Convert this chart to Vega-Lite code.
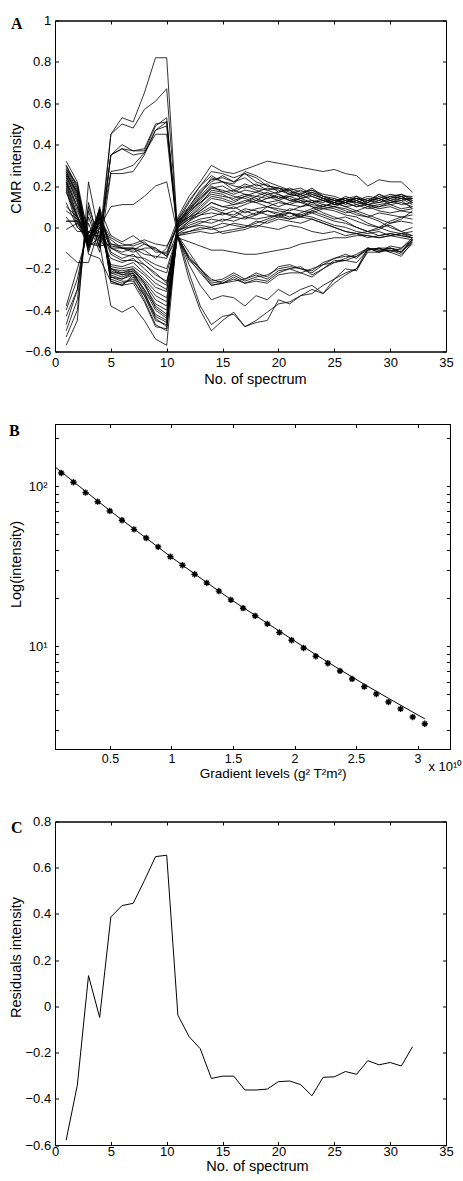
{
"$schema": "https://vega.github.io/schema/vega-lite/v6.json",
"padding": {"left": 7, "top": 13.5, "right": 0, "bottom": 0},
"background": "white",
"bounds": "flush",
"spacing": 72.5,
"config": {
  "font": "Liberation Sans",
  "view": {"stroke": "black", "strokeWidth": 1},
  "axis": {"grid": false, "domainColor": "black", "domainWidth": 1, "tickColor": "black", "tickWidth": 1, "tickSize": -3.5, "labelColor": "black", "titleColor": "black", "labelFont": "Liberation Sans", "titleFont": "Liberation Sans", "labelFontSize": 13, "titleFontSize": 14.5, "titleFontWeight": "normal", "labelFlush": false, "labelOverlap": false},
  "title": {"font": "Liberation Serif", "fontWeight": "bold", "fontSize": 16, "color": "black"}
},
"vconcat": [
{
  "width": 391, "height": 331,
  "title": {"text": "A", "orient": "top", "anchor": "start", "frame": "group", "align": "left", "dx": -44, "offset": -17.6},
  "data": {"values": [
{"x":1,"L1":-0.47,"L2":-0.57,"L3":-0.53,"L4":-0.4,"L5":-0.38,"L6":-0.43,"L7":-0.12,"L8":-0.5,"L9":0.03,"N1":0.32,"N2":0.3,"N3":0.29,"N4":0.28,"N5":0.27,"N6":0.26,"N7":0.25,"N8":0.24,"N9":0.23,"N10":0.22,"N11":0.21,"N12":0.2,"N13":0.19,"N14":0.18,"N15":0.26,"N16":0.3,"N17":0.28,"N18":0.25,"N19":0.22,"N20":0.08,"N21":0.27,"Z1":0.03,"Z2":-0.01,"Z3":0.1,"Z4":0.17,"Z5":0.12,"Z6":0.05},
{"x":2,"L1":-0.3,"L2":-0.45,"L3":-0.4,"L4":-0.25,"L5":-0.2,"L6":-0.3,"L7":-0.17,"L8":-0.35,"L9":0.03,"N1":0.22,"N2":0.2,"N3":0.18,"N4":0.17,"N5":0.15,"N6":0.14,"N7":0.12,"N8":0.1,"N9":0.08,"N10":0.06,"N11":0.05,"N12":0.04,"N13":0.02,"N14":0.0,"N15":0.17,"N16":0.19,"N17":0.21,"N18":0.13,"N19":0.1,"N20":0.04,"N21":0.16,"Z1":0.03,"Z2":0.02,"Z3":0.05,"Z4":0.05,"Z5":0.0,"Z6":-0.02},
{"x":3,"L1":0.05,"L2":0.22,"L3":0.12,"L4":0.02,"L5":-0.02,"L6":0.08,"L7":-0.17,"L8":0.1,"L9":-0.05,"N1":-0.05,"N2":-0.08,"N3":-0.07,"N4":-0.1,"N5":-0.06,"N6":-0.12,"N7":-0.09,"N8":-0.11,"N9":-0.05,"N10":-0.08,"N11":-0.06,"N12":-0.04,"N13":-0.09,"N14":-0.05,"N15":-0.13,"N16":-0.03,"N17":-0.1,"N18":-0.07,"N19":-0.04,"N20":-0.1,"N21":-0.08,"Z1":-0.06,"Z2":-0.05,"Z3":-0.03,"Z4":-0.08,"Z5":-0.05,"Z6":-0.02},
{"x":4,"L1":-0.1,"L2":-0.05,"L3":-0.08,"L4":-0.12,"L5":-0.05,"L6":-0.1,"L7":0.0,"L8":-0.07,"L9":0.05,"N1":0.05,"N2":0.08,"N3":0.06,"N4":0.1,"N5":0.07,"N6":0.04,"N7":0.09,"N8":0.05,"N9":0.02,"N10":0.0,"N11":0.03,"N12":-0.02,"N13":-0.05,"N14":0.01,"N15":-0.15,"N16":0.07,"N17":0.03,"N18":0.06,"N19":-0.04,"N20":0.08,"N21":-0.08,"Z1":0.09,"Z2":0.04,"Z3":0.05,"Z4":-0.09,"Z5":0.02,"Z6":0.0},
{"x":5,"L1":0.45,"L2":0.45,"L3":0.35,"L4":0.26,"L5":0.27,"L6":0.35,"L7":0.1,"L8":0.35,"L9":-0.1,"N1":-0.25,"N2":-0.26,"N3":-0.24,"N4":-0.27,"N5":-0.23,"N6":-0.22,"N7":-0.21,"N8":-0.22,"N9":-0.2,"N10":-0.2,"N11":-0.19,"N12":-0.18,"N13":-0.15,"N14":-0.13,"N15":-0.26,"N16":-0.24,"N17":-0.2,"N18":-0.12,"N19":-0.1,"N20":-0.1,"N21":-0.38,"Z1":-0.04,"Z2":-0.05,"Z3":-0.08,"Z4":-0.08,"Z5":-0.06,"Z6":-0.09},
{"x":6,"L1":0.53,"L2":0.5,"L3":0.4,"L4":0.26,"L5":0.28,"L6":0.38,"L7":0.11,"L8":0.38,"L9":-0.1,"N1":-0.27,"N2":-0.28,"N3":-0.26,"N4":-0.28,"N5":-0.25,"N6":-0.24,"N7":-0.23,"N8":-0.22,"N9":-0.22,"N10":-0.21,"N11":-0.2,"N12":-0.19,"N13":-0.17,"N14":-0.16,"N15":-0.28,"N16":-0.25,"N17":-0.23,"N18":-0.15,"N19":-0.12,"N20":-0.13,"N21":-0.41,"Z1":-0.07,"Z2":-0.08,"Z3":-0.1,"Z4":-0.09,"Z5":-0.1,"Z6":-0.1},
{"x":7,"L1":0.51,"L2":0.48,"L3":0.37,"L4":0.27,"L5":0.3,"L6":0.37,"L7":0.11,"L8":0.35,"L9":-0.12,"N1":-0.25,"N2":-0.27,"N3":-0.26,"N4":-0.24,"N5":-0.23,"N6":-0.22,"N7":-0.22,"N8":-0.2,"N9":-0.21,"N10":-0.2,"N11":-0.19,"N12":-0.17,"N13":-0.15,"N14":-0.16,"N15":-0.23,"N16":-0.22,"N17":-0.21,"N18":-0.13,"N19":-0.1,"N20":-0.14,"N21":-0.38,"Z1":-0.04,"Z2":-0.09,"Z3":-0.11,"Z4":-0.08,"Z5":-0.1,"Z6":-0.1},
{"x":8,"L1":0.65,"L2":0.57,"L3":0.37,"L4":0.35,"L5":0.36,"L6":0.38,"L7":0.15,"L8":0.36,"L9":-0.1,"N1":-0.35,"N2":-0.36,"N3":-0.33,"N4":-0.32,"N5":-0.3,"N6":-0.3,"N7":-0.28,"N8":-0.27,"N9":-0.26,"N10":-0.25,"N11":-0.23,"N12":-0.22,"N13":-0.2,"N14":-0.18,"N15":-0.33,"N16":-0.31,"N17":-0.27,"N18":-0.18,"N19":-0.16,"N20":-0.15,"N21":-0.45,"Z1":-0.08,"Z2":-0.07,"Z3":-0.08,"Z4":-0.06,"Z5":-0.13,"Z6":-0.11},
{"x":9,"L1":0.82,"L2":0.61,"L3":0.49,"L4":0.47,"L5":0.45,"L6":0.5,"L7":0.2,"L8":0.47,"L9":-0.1,"N1":-0.47,"N2":-0.48,"N3":-0.45,"N4":-0.42,"N5":-0.4,"N6":-0.38,"N7":-0.37,"N8":-0.35,"N9":-0.33,"N10":-0.31,"N11":-0.29,"N12":-0.27,"N13":-0.25,"N14":-0.22,"N15":-0.43,"N16":-0.44,"N17":-0.39,"N18":-0.23,"N19":-0.2,"N20":-0.18,"N21":-0.54,"Z1":-0.1,"Z2":-0.12,"Z3":-0.11,"Z4":-0.08,"Z5":-0.14,"Z6":-0.15},
{"x":10,"L1":0.82,"L2":0.67,"L3":0.53,"L4":0.51,"L5":0.45,"L6":0.51,"L7":0.22,"L8":0.49,"L9":-0.14,"N1":-0.5,"N2":-0.49,"N3":-0.47,"N4":-0.45,"N5":-0.44,"N6":-0.42,"N7":-0.4,"N8":-0.38,"N9":-0.36,"N10":-0.34,"N11":-0.31,"N12":-0.3,"N13":-0.28,"N14":-0.27,"N15":-0.46,"N16":-0.48,"N17":-0.43,"N18":-0.26,"N19":-0.22,"N20":-0.2,"N21":-0.57,"Z1":-0.14,"Z2":-0.12,"Z3":-0.13,"Z4":-0.09,"Z5":-0.15,"Z6":-0.1},
{"x":11,"L1":-0.05,"L2":-0.04,"L3":-0.05,"L4":-0.04,"L5":-0.05,"L6":-0.05,"L7":-0.04,"L8":-0.05,"L9":-0.05,"N1":0.05,"N2":0.04,"N3":0.03,"N4":0.02,"N5":0.02,"N6":0.0,"N7":0.01,"N8":0.03,"N9":0.02,"N10":0.0,"N11":0.01,"N12":-0.01,"N13":0.0,"N14":-0.02,"N15":-0.01,"N16":-0.02,"N17":-0.03,"N18":-0.04,"N19":-0.04,"N20":-0.03,"N21":0.02,"Z1":0.02,"Z2":0.01,"Z3":0.03,"Z4":0.0,"Z5":-0.02,"Z6":0.04},
{"x":12,"L1":-0.25,"L2":-0.22,"L3":-0.18,"L4":-0.15,"L5":-0.15,"L6":-0.16,"L7":-0.12,"L8":-0.14,"L9":-0.07,"N1":0.15,"N2":0.13,"N3":0.12,"N4":0.1,"N5":0.08,"N6":0.07,"N7":0.06,"N8":0.08,"N9":0.05,"N10":0.04,"N11":0.05,"N12":0.03,"N13":0.04,"N14":0.02,"N15":0.0,"N16":0.01,"N17":0.0,"N18":-0.02,"N19":-0.03,"N20":-0.02,"N21":0.07,"Z1":0.09,"Z2":0.08,"Z3":0.09,"Z4":0.05,"Z5":0.03,"Z6":0.1},
{"x":13,"L1":-0.4,"L2":-0.38,"L3":-0.28,"L4":-0.22,"L5":-0.2,"L6":-0.21,"L7":-0.2,"L8":-0.2,"L9":-0.09,"N1":0.22,"N2":0.2,"N3":0.2,"N4":0.17,"N5":0.15,"N6":0.13,"N7":0.11,"N8":0.12,"N9":0.09,"N10":0.08,"N11":0.07,"N12":0.06,"N13":0.06,"N14":0.04,"N15":0.02,"N16":0.03,"N17":0.01,"N18":0.0,"N19":-0.02,"N20":-0.01,"N21":0.12,"Z1":0.16,"Z2":0.14,"Z3":0.14,"Z4":0.1,"Z5":0.08,"Z6":0.18},
{"x":14,"L1":-0.5,"L2":-0.47,"L3":-0.35,"L4":-0.28,"L5":-0.27,"L6":-0.28,"L7":-0.25,"L8":-0.26,"L9":-0.11,"N1":0.3,"N2":0.27,"N3":0.25,"N4":0.22,"N5":0.21,"N6":0.19,"N7":0.18,"N8":0.16,"N9":0.14,"N10":0.12,"N11":0.1,"N12":0.09,"N13":0.07,"N14":0.05,"N15":0.04,"N16":0.02,"N17":0.0,"N18":-0.01,"N19":-0.03,"N20":0.0,"N21":0.17,"Z1":0.24,"Z2":0.2,"Z3":0.19,"Z4":0.15,"Z5":0.12,"Z6":0.23},
{"x":15,"L1":-0.45,"L2":-0.43,"L3":-0.33,"L4":-0.27,"L5":-0.26,"L6":-0.27,"L7":-0.27,"L8":-0.25,"L9":-0.11,"N1":0.27,"N2":0.26,"N3":0.22,"N4":0.25,"N5":0.22,"N6":0.2,"N7":0.17,"N8":0.15,"N9":0.13,"N10":0.1,"N11":0.08,"N12":0.07,"N13":0.06,"N14":0.07,"N15":0.03,"N16":0.04,"N17":0.02,"N18":0.0,"N19":-0.02,"N20":-0.03,"N21":0.16,"Z1":0.22,"Z2":0.17,"Z3":0.18,"Z4":0.14,"Z5":0.1,"Z6":0.24},
{"x":16,"L1":-0.41,"L2":-0.42,"L3":-0.34,"L4":-0.25,"L5":-0.23,"L6":-0.26,"L7":-0.24,"L8":-0.22,"L9":-0.12,"N1":0.26,"N2":0.24,"N3":0.21,"N4":0.22,"N5":0.2,"N6":0.17,"N7":0.18,"N8":0.14,"N9":0.11,"N10":0.09,"N11":0.1,"N12":0.05,"N13":0.08,"N14":0.06,"N15":0.05,"N16":0.03,"N17":0.01,"N18":0.02,"N19":-0.01,"N20":-0.02,"N21":0.13,"Z1":0.18,"Z2":0.15,"Z3":0.16,"Z4":0.12,"Z5":0.11,"Z6":0.22},
{"x":17,"L1":-0.48,"L2":-0.48,"L3":-0.38,"L4":-0.27,"L5":-0.26,"L6":-0.25,"L7":-0.27,"L8":-0.25,"L9":-0.13,"N1":0.28,"N2":0.26,"N3":0.27,"N4":0.24,"N5":0.19,"N6":0.2,"N7":0.16,"N8":0.16,"N9":0.12,"N10":0.11,"N11":0.07,"N12":0.08,"N13":0.05,"N14":0.09,"N15":0.04,"N16":0.05,"N17":0.0,"N18":0.01,"N19":0.0,"N20":-0.01,"N21":0.15,"Z1":0.21,"Z2":0.14,"Z3":0.18,"Z4":0.15,"Z5":0.13,"Z6":0.26},
{"x":18,"L1":-0.46,"L2":-0.45,"L3":-0.33,"L4":-0.25,"L5":-0.24,"L6":-0.23,"L7":-0.26,"L8":-0.22,"L9":-0.13,"N1":0.3,"N2":0.22,"N3":0.25,"N4":0.2,"N5":0.21,"N6":0.18,"N7":0.15,"N8":0.14,"N9":0.15,"N10":0.13,"N11":0.09,"N12":0.06,"N13":0.07,"N14":0.08,"N15":0.06,"N16":0.04,"N17":0.03,"N18":0.0,"N19":0.02,"N20":0.01,"N21":0.17,"Z1":0.19,"Z2":0.12,"Z3":0.17,"Z4":0.13,"Z5":0.12,"Z6":0.24},
{"x":19,"L1":-0.45,"L2":-0.41,"L3":-0.35,"L4":-0.26,"L5":-0.23,"L6":-0.25,"L7":-0.27,"L8":-0.24,"L9":-0.12,"N1":0.32,"N2":0.2,"N3":0.22,"N4":0.21,"N5":0.18,"N6":0.16,"N7":0.17,"N8":0.12,"N9":0.14,"N10":0.12,"N11":0.1,"N12":0.1,"N13":0.08,"N14":0.06,"N15":0.08,"N16":0.05,"N17":0.02,"N18":0.03,"N19":0.04,"N20":0.0,"N21":0.19,"Z1":0.18,"Z2":0.1,"Z3":0.15,"Z4":0.16,"Z5":0.14,"Z6":0.2},
{"x":20,"L1":-0.35,"L2":-0.37,"L3":-0.3,"L4":-0.22,"L5":-0.2,"L6":-0.21,"L7":-0.23,"L8":-0.19,"L9":-0.11,"N1":0.31,"N2":0.19,"N3":0.2,"N4":0.17,"N5":0.19,"N6":0.17,"N7":0.14,"N8":0.13,"N9":0.16,"N10":0.1,"N11":0.12,"N12":0.09,"N13":0.06,"N14":0.05,"N15":0.07,"N16":0.06,"N17":0.04,"N18":0.05,"N19":0.06,"N20":-0.01,"N21":0.18,"Z1":0.16,"Z2":0.08,"Z3":0.13,"Z4":0.14,"Z5":0.15,"Z6":0.19},
{"x":21,"L1":-0.37,"L2":-0.36,"L3":-0.33,"L4":-0.2,"L5":-0.19,"L6":-0.2,"L7":-0.22,"L8":-0.18,"L9":-0.1,"N1":0.3,"N2":0.17,"N3":0.18,"N4":0.19,"N5":0.16,"N6":0.18,"N7":0.15,"N8":0.15,"N9":0.14,"N10":0.12,"N11":0.11,"N12":0.08,"N13":0.09,"N14":0.07,"N15":0.05,"N16":0.04,"N17":0.03,"N18":0.04,"N19":0.07,"N20":0.01,"N21":0.16,"Z1":0.13,"Z2":0.07,"Z3":0.11,"Z4":0.16,"Z5":0.13,"Z6":0.18},
{"x":22,"L1":-0.33,"L2":-0.33,"L3":-0.3,"L4":-0.22,"L5":-0.2,"L6":-0.19,"L7":-0.22,"L8":-0.2,"L9":-0.08,"N1":0.29,"N2":0.16,"N3":0.19,"N4":0.17,"N5":0.15,"N6":0.14,"N7":0.16,"N8":0.13,"N9":0.12,"N10":0.14,"N11":0.1,"N12":0.1,"N13":0.08,"N14":0.06,"N15":0.07,"N16":0.05,"N17":0.02,"N18":0.06,"N19":0.05,"N20":0.0,"N21":0.18,"Z1":0.12,"Z2":0.05,"Z3":0.13,"Z4":0.15,"Z5":0.14,"Z6":0.16},
{"x":23,"L1":-0.3,"L2":-0.32,"L3":-0.28,"L4":-0.2,"L5":-0.22,"L6":-0.23,"L7":-0.24,"L8":-0.21,"L9":-0.07,"N1":0.28,"N2":0.18,"N3":0.16,"N4":0.18,"N5":0.17,"N6":0.15,"N7":0.13,"N8":0.12,"N9":0.13,"N10":0.12,"N11":0.12,"N12":0.11,"N13":0.07,"N14":0.08,"N15":0.09,"N16":0.07,"N17":0.04,"N18":0.05,"N19":0.08,"N20":-0.02,"N21":0.15,"Z1":0.1,"Z2":0.04,"Z3":0.1,"Z4":0.17,"Z5":0.16,"Z6":0.19},
{"x":24,"L1":-0.32,"L2":-0.28,"L3":-0.32,"L4":-0.18,"L5":-0.18,"L6":-0.2,"L7":-0.2,"L8":-0.17,"L9":-0.06,"N1":0.27,"N2":0.15,"N3":0.14,"N4":0.16,"N5":0.14,"N6":0.13,"N7":0.12,"N8":0.14,"N9":0.11,"N10":0.1,"N11":0.13,"N12":0.1,"N13":0.09,"N14":0.1,"N15":0.11,"N16":0.05,"N17":0.02,"N18":0.03,"N19":0.06,"N20":-0.03,"N21":0.13,"Z1":0.09,"Z2":0.02,"Z3":0.07,"Z4":0.15,"Z5":0.14,"Z6":0.15},
{"x":25,"L1":-0.27,"L2":-0.25,"L3":-0.25,"L4":-0.17,"L5":-0.15,"L6":-0.16,"L7":-0.17,"L8":-0.15,"L9":-0.05,"N1":0.28,"N2":0.13,"N3":0.12,"N4":0.15,"N5":0.13,"N6":0.12,"N7":0.14,"N8":0.11,"N9":0.1,"N10":0.12,"N11":0.11,"N12":0.09,"N13":0.1,"N14":0.12,"N15":0.1,"N16":0.03,"N17":0.0,"N18":0.01,"N19":0.04,"N20":-0.02,"N21":0.11,"Z1":0.08,"Z2":0.0,"Z3":0.05,"Z4":0.13,"Z5":0.12,"Z6":0.14},
{"x":26,"L1":-0.23,"L2":-0.2,"L3":-0.22,"L4":-0.15,"L5":-0.14,"L6":-0.16,"L7":-0.16,"L8":-0.13,"L9":-0.05,"N1":0.26,"N2":0.14,"N3":0.15,"N4":0.13,"N5":0.12,"N6":0.14,"N7":0.11,"N8":0.12,"N9":0.12,"N10":0.1,"N11":0.13,"N12":0.07,"N13":0.08,"N14":0.1,"N15":0.09,"N16":0.02,"N17":-0.02,"N18":0.0,"N19":0.05,"N20":-0.04,"N21":0.12,"Z1":0.06,"Z2":-0.02,"Z3":0.03,"Z4":0.14,"Z5":0.13,"Z6":0.12},
{"x":27,"L1":-0.2,"L2":-0.21,"L3":-0.2,"L4":-0.13,"L5":-0.14,"L6":-0.14,"L7":-0.17,"L8":-0.15,"L9":-0.04,"N1":0.25,"N2":0.12,"N3":0.13,"N4":0.14,"N5":0.14,"N6":0.11,"N7":0.13,"N8":0.13,"N9":0.1,"N10":0.11,"N11":0.12,"N12":0.08,"N13":0.06,"N14":0.08,"N15":0.07,"N16":0.0,"N17":-0.03,"N18":-0.02,"N19":0.03,"N20":-0.03,"N21":0.1,"Z1":0.05,"Z2":-0.03,"Z3":0.0,"Z4":0.15,"Z5":0.14,"Z6":0.15},
{"x":28,"L1":-0.1,"L2":-0.11,"L3":-0.12,"L4":-0.1,"L5":-0.11,"L6":-0.1,"L7":-0.11,"L8":-0.1,"L9":-0.04,"N1":0.2,"N2":0.14,"N3":0.15,"N4":0.12,"N5":0.13,"N6":0.13,"N7":0.11,"N8":0.1,"N9":0.12,"N10":0.09,"N11":0.11,"N12":0.1,"N13":0.05,"N14":0.06,"N15":0.05,"N16":-0.02,"N17":-0.04,"N18":-0.03,"N19":0.01,"N20":-0.05,"N21":0.11,"Z1":0.02,"Z2":-0.02,"Z3":-0.02,"Z4":0.13,"Z5":0.12,"Z6":0.11},
{"x":29,"L1":-0.12,"L2":-0.1,"L3":-0.12,"L4":-0.12,"L5":-0.1,"L6":-0.11,"L7":-0.1,"L8":-0.11,"L9":-0.05,"N1":0.23,"N2":0.13,"N3":0.14,"N4":0.16,"N5":0.12,"N6":0.14,"N7":0.12,"N8":0.11,"N9":0.14,"N10":0.1,"N11":0.1,"N12":0.08,"N13":0.07,"N14":0.04,"N15":0.03,"N16":-0.04,"N17":-0.05,"N18":-0.02,"N19":0.0,"N20":-0.04,"N21":0.09,"Z1":0.0,"Z2":0.0,"Z3":-0.01,"Z4":0.16,"Z5":0.15,"Z6":0.13},
{"x":30,"L1":-0.11,"L2":-0.12,"L3":-0.1,"L4":-0.09,"L5":-0.1,"L6":-0.1,"L7":-0.12,"L8":-0.11,"L9":-0.04,"N1":0.22,"N2":0.15,"N3":0.16,"N4":0.13,"N5":0.14,"N6":0.12,"N7":0.13,"N8":0.12,"N9":0.11,"N10":0.11,"N11":0.12,"N12":0.07,"N13":0.06,"N14":0.02,"N15":0.0,"N16":-0.03,"N17":-0.04,"N18":-0.04,"N19":-0.02,"N20":-0.03,"N21":0.1,"Z1":0.01,"Z2":0.03,"Z3":0.02,"Z4":0.14,"Z5":0.13,"Z6":0.15},
{"x":31,"L1":-0.13,"L2":-0.14,"L3":-0.11,"L4":-0.1,"L5":-0.12,"L6":-0.12,"L7":-0.1,"L8":-0.12,"L9":-0.03,"N1":0.22,"N2":0.14,"N3":0.15,"N4":0.14,"N5":0.15,"N6":0.13,"N7":0.11,"N8":0.14,"N9":0.12,"N10":0.09,"N11":0.13,"N12":0.08,"N13":0.05,"N14":0.03,"N15":-0.02,"N16":-0.04,"N17":-0.05,"N18":-0.03,"N19":-0.03,"N20":-0.04,"N21":0.08,"Z1":-0.02,"Z2":0.05,"Z3":0.04,"Z4":0.16,"Z5":0.15,"Z6":0.16},
{"x":32,"L1":-0.08,"L2":-0.07,"L3":-0.06,"L4":-0.05,"L5":-0.06,"L6":-0.07,"L7":-0.06,"L8":-0.06,"L9":-0.05,"N1":0.17,"N2":0.13,"N3":0.15,"N4":0.14,"N5":0.12,"N6":0.14,"N7":0.12,"N8":0.11,"N9":0.1,"N10":0.1,"N11":0.09,"N12":0.07,"N13":0.04,"N14":0.02,"N15":0.0,"N16":-0.05,"N17":-0.06,"N18":-0.04,"N19":-0.02,"N20":-0.05,"N21":0.09,"Z1":-0.04,"Z2":0.06,"Z3":0.08,"Z4":0.13,"Z5":0.12,"Z6":0.14}
  ]},
  "transform": [{"fold": ["L1","L2","L3","L4","L5","L6","L7","L8","L9","N1","N2","N3","N4","N5","N6","N7","N8","N9","N10","N11","N12","N13","N14","N15","N16","N17","N18","N19","N20","N21","Z1","Z2","Z3","Z4","Z5","Z6"], "as": ["series", "y"]}],
  "layer": [
    {"mark": {"type": "line", "color": "black", "strokeWidth": 0.8},
     "encoding": {
       "x": {"field": "x", "type": "quantitative", "scale": {"domain": [0, 35], "nice": false, "zero": false}, "axis": {"orient": "bottom", "values": [0,5,10,15,20,25,30,35], "title": "No. of spectrum", "labelPadding": 8.2, "titleX": 200, "titleY": 32.3, "titleBaseline": "alphabetic"}},
       "y": {"field": "y", "type": "quantitative", "scale": {"domain": [-0.6, 1], "nice": false, "zero": false}, "axis": {"orient": "left", "values": [-0.6,-0.4,-0.2,0,0.2,0.4,0.6,0.8,1], "format": "~g", "title": "CMR intensity", "labelPadding": 7.8, "titleX": -35, "titleY": 147.5, "titleBaseline": "alphabetic"}},
       "detail": {"field": "series", "type": "nominal"}
     }},
    {"mark": {"type": "line", "color": "black", "opacity": 0},
     "encoding": {
       "x": {"field": "x", "type": "quantitative", "scale": {"domain": [0, 35], "nice": false, "zero": false}, "axis": {"orient": "top", "values": [0,5,10,15,20,25,30,35], "labels": false, "title": null}},
       "y": {"field": "y", "type": "quantitative", "scale": {"domain": [-0.6, 1], "nice": false, "zero": false}, "axis": {"orient": "right", "values": [-0.6,-0.4,-0.2,0,0.2,0.4,0.6,0.8,1], "labels": false, "title": null}},
       "detail": {"field": "series", "type": "nominal"}
     }}
  ],
  "resolve": {"axis": {"x": "independent", "y": "independent"}}
},
{
  "width": 395, "height": 325,
  "title": {"text": "B", "orient": "top", "anchor": "start", "frame": "group", "align": "left", "dx": -46, "offset": -15.4},
  "layer": [
    {"data": {"values": [
      {"g":0.104,"intensity":121},{"g":0.203,"intensity":106},{"g":0.301,"intensity":91.3},{"g":0.4,"intensity":80.1},{"g":0.498,"intensity":70.1},{"g":0.597,"intensity":61.3},{"g":0.695,"intensity":53.8},{"g":0.794,"intensity":47.5},{"g":0.892,"intensity":41.8},{"g":0.991,"intensity":36.3},{"g":1.089,"intensity":32.1},{"g":1.188,"intensity":28.2},{"g":1.286,"intensity":24.9},{"g":1.385,"intensity":22.1},{"g":1.483,"intensity":19.5},{"g":1.582,"intensity":17.3},{"g":1.68,"intensity":15.5},{"g":1.779,"intensity":13.8},{"g":1.877,"intensity":12.2},{"g":1.976,"intensity":10.9},{"g":2.074,"intensity":9.75},{"g":2.173,"intensity":8.66},{"g":2.271,"intensity":7.83},{"g":2.37,"intensity":7.01},{"g":2.468,"intensity":6.25},{"g":2.567,"intensity":5.59},{"g":2.665,"intensity":5.03},{"g":2.764,"intensity":4.48},{"g":2.862,"intensity":4.06},{"g":2.961,"intensity":3.61},{"g":3.059,"intensity":3.28}
     ]},
     "mark": {"type": "point", "shape": "M-1,0L1,0M0,-1L0,1M-0.7,-0.7L0.7,0.7M-0.7,0.7L0.7,-0.7", "filled": false, "stroke": "black", "strokeWidth": 1.4, "size": 40, "opacity": 1},
     "encoding": {
       "x": {"field": "g", "type": "quantitative", "scale": {"domain": [0.053, 3.264], "nice": false, "zero": false}, "axis": {"orient": "bottom", "values": [0.5,1,1.5,2,2.5,3], "format": "~g", "title": "Gradient levels (g² T²m²)", "labelFontSize": 12.5, "labelPadding": 7, "titleFontSize": 13.5, "titleX": 217.7, "titleY": 28, "titleBaseline": "alphabetic"}},
       "y": {"field": "intensity", "type": "quantitative", "scale": {"type": "log", "domain": [2.28, 245], "nice": false}, "axis": {"orient": "left", "values": [3,4,5,6,7,8,9,10,20,30,40,50,60,70,80,90,100,200], "labelExpr": "datum.value == 10 ? '10¹' : datum.value == 100 ? '10²' : ''", "title": "Log(intensity)", "labelPadding": 11.5, "titleX": -35, "titleY": 140, "titleBaseline": "alphabetic"}}
     }},
    {"data": {"values": [
      {"g":0.053,"fit":132.2},{"g":0.25,"fit":100},{"g":0.5,"fit":70.3},{"g":0.75,"fit":50.3},{"g":1.0,"fit":36.0},{"g":1.25,"fit":26.2},{"g":1.5,"fit":19.2},{"g":1.75,"fit":14.4},{"g":1.976,"fit":11.1},{"g":2.173,"fit":8.87},{"g":2.37,"fit":7.14},{"g":2.567,"fit":5.79},{"g":2.764,"fit":4.73},{"g":2.961,"fit":3.88},{"g":3.059,"fit":3.52}
     ]},
     "mark": {"type": "line", "color": "black", "strokeWidth": 1},
     "encoding": {
       "x": {"field": "g", "type": "quantitative", "scale": {"domain": [0.053, 3.264], "nice": false, "zero": false}, "axis": {"orient": "top", "values": [0.5,1,1.5,2,2.5,3], "labels": false, "title": null}},
       "y": {"field": "fit", "type": "quantitative", "scale": {"type": "log", "domain": [2.28, 245], "nice": false}, "axis": {"orient": "right", "values": [3,4,5,6,7,8,9,10,20,30,40,50,60,70,80,90,100,200], "labels": false, "title": null}}
     }},
    {"data": {"values": [
      {"g":0.053,"fit":132.2},{"g":3.059,"fit":3.52}
     ]},
     "mark": {"type": "line", "color": "black", "opacity": 0},
     "encoding": {
       "x": {"field": "g", "type": "quantitative", "scale": {"domain": [0.053, 3.264], "nice": false, "zero": false}, "axis": {"orient": "bottom", "labels": false, "ticks": false, "domain": false, "title": "x 10¹⁰", "titleFontSize": 13, "titleX": 373, "titleY": 21, "titleAlign": "left", "titleBaseline": "alphabetic"}},
       "y": {"field": "fit", "type": "quantitative", "scale": {"type": "log", "domain": [2.28, 245], "nice": false}, "axis": null}
     }}
  ],
  "resolve": {"axis": {"x": "independent", "y": "independent"}}
},
{
  "width": 391, "height": 323.5,
  "title": {"text": "C", "orient": "top", "anchor": "start", "frame": "group", "align": "left", "dx": -44, "offset": -20.3},
  "data": {"values": [
    {"x":1,"r":-0.579},{"x":2,"r":-0.341},{"x":3,"r":0.133},{"x":4,"r":-0.048},{"x":5,"r":0.387},{"x":6,"r":0.436},{"x":7,"r":0.446},{"x":8,"r":0.544},{"x":9,"r":0.648},{"x":10,"r":0.654},{"x":11,"r":-0.038},{"x":12,"r":-0.131},{"x":13,"r":-0.183},{"x":14,"r":-0.312},{"x":15,"r":-0.302},{"x":16,"r":-0.302},{"x":17,"r":-0.362},{"x":18,"r":-0.362},{"x":19,"r":-0.358},{"x":20,"r":-0.326},{"x":21,"r":-0.323},{"x":22,"r":-0.339},{"x":23,"r":-0.387},{"x":24,"r":-0.307},{"x":25,"r":-0.305},{"x":26,"r":-0.282},{"x":27,"r":-0.294},{"x":28,"r":-0.235},{"x":29,"r":-0.253},{"x":30,"r":-0.243},{"x":31,"r":-0.258},{"x":32,"r":-0.175}
  ]},
  "layer": [
    {"mark": {"type": "line", "color": "black", "strokeWidth": 1},
     "encoding": {
       "x": {"field": "x", "type": "quantitative", "scale": {"domain": [0, 35], "nice": false, "zero": false}, "axis": {"orient": "bottom", "values": [0,5,10,15,20,25,30,35], "title": "No. of spectrum", "labelPadding": 4.2, "titleX": 202, "titleY": 25, "titleBaseline": "alphabetic"}},
       "y": {"field": "r", "type": "quantitative", "scale": {"domain": [-0.6, 0.8], "nice": false, "zero": false}, "axis": {"orient": "left", "values": [-0.6,-0.4,-0.2,0,0.2,0.4,0.6,0.8], "format": "~g", "title": "Residuals intensity", "labelPadding": 7.8, "titleX": -35, "titleY": 135.5, "titleBaseline": "alphabetic"}}
     }},
    {"mark": {"type": "line", "color": "black", "opacity": 0},
     "encoding": {
       "x": {"field": "x", "type": "quantitative", "scale": {"domain": [0, 35], "nice": false, "zero": false}, "axis": {"orient": "top", "values": [0,5,10,15,20,25,30,35], "labels": false, "title": null}},
       "y": {"field": "r", "type": "quantitative", "scale": {"domain": [-0.6, 0.8], "nice": false, "zero": false}, "axis": {"orient": "right", "values": [-0.6,-0.4,-0.2,0,0.2,0.4,0.6,0.8], "labels": false, "title": null}}
     }}
  ],
  "resolve": {"axis": {"x": "independent", "y": "independent"}}
}
]
}
